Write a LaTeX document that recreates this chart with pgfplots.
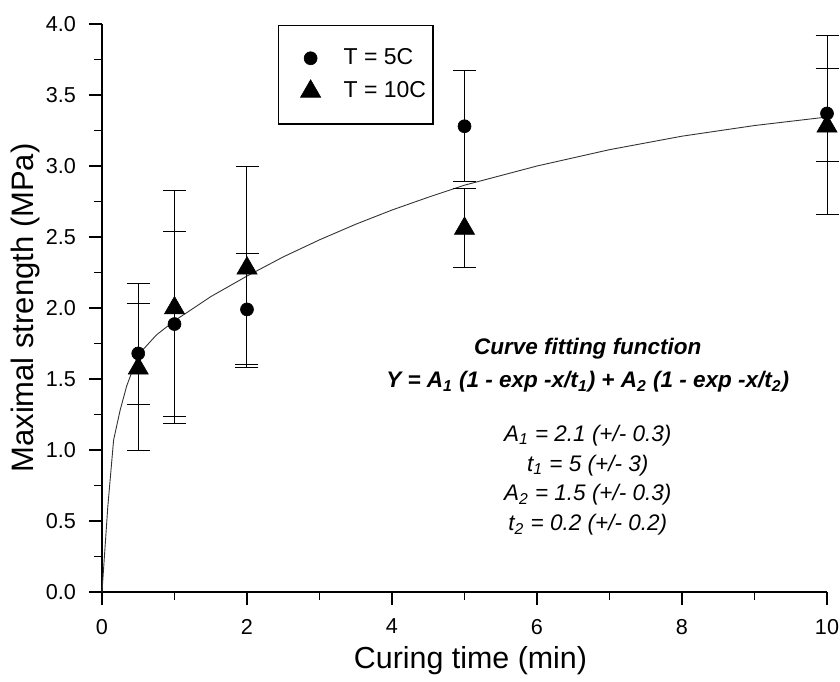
\documentclass[border=0pt]{standalone}
\usepackage{fontspec}
\setmainfont{Liberation Sans}
\usepackage{pgfplots}
\pgfplotsset{compat=1.18}
\begin{document}
\begin{tikzpicture}
\begin{axis}[
  at={(0pt,0pt)}, anchor=south west,
  width=362.5pt, height=284pt, scale only axis,
  xmin=0, xmax=10, ymin=0, ymax=4,
  axis x line*=bottom, axis y line*=left,
  axis line style={line width=0.85pt, -},
  tick align=outside,
  major tick length=6.5pt, minor tick length=4pt,
  every tick/.style={black, line width=0.85pt},
  xtick={0,2,4,6,8,10}, minor xtick={1,3,5,7,9},
  ytick={0,0.5,...,4}, minor ytick={0.25,0.75,...,3.75},
  yticklabel style={xshift=-3pt, /pgf/number format/.cd, fixed, fixed zerofill, precision=1},
  /pgf/number format/assume math mode=true,
  tick label style={font=\fontsize{10.8}{13}\selectfont},
  xticklabel style={yshift=-3.5pt},
  xlabel={Curing time (min)}, ylabel={Maximal strength (MPa)},
  every axis x label/.style={at={([xshift=3pt,yshift=-38pt]axis description cs:0.5,0)}, anchor=base, font=\fontsize{15.2}{18}\selectfont},
  every axis y label/.style={at={([xshift=-34pt]axis description cs:0,0.5)}, anchor=base, rotate=90, font=\fontsize{15.5}{18}\selectfont},
  legend style={at={(0.2428,0.998)}, anchor=north west, draw=black, line width=0.6pt,
    font=\fontsize{11.5}{13}\selectfont, inner xsep=2.5pt, inner ysep=10.5pt, row sep=5pt,
    nodes={inner sep=1pt},
    /tikz/every odd column/.append style={column sep=2pt}},
  legend image code/.code={\path[draw=none, fill=none] (0pt,-3pt) rectangle (27pt,3pt); \draw[#1] plot coordinates {(13.5pt,0pt)};},
  legend cell align=left,
  clip=false,
]
\addplot[black!80, line width=0.45pt, forget plot] coordinates {
 (0,0) (0.08,0.60) (0.16,1.07) (0.25,1.28) (0.34,1.45) (0.5,1.67) (0.75,1.81)
 (1,1.91) (1.5,2.08) (2,2.225) (2.5,2.36) (3,2.48) (3.5,2.59) (4,2.69)
 (4.5,2.78) (5,2.865) (6,3.00) (7,3.115) (8,3.21) (9,3.285) (10,3.345)};

\addplot[only marks, mark=*, black, mark size=3.25pt, mark options={fill=black, draw=black, line width=0.3pt},
  error bars/.cd, y dir=both, y explicit,
  error bar style={line width=0.5pt, black},
  error mark options={rotate=90, mark size=5.75pt, line width=0.5pt, black}]
  table[x=x, y=y, y error plus=ep, y error minus=em] {
x y ep em
0.5 1.68 0.35 0.36
1 1.887 0.65 0.65
2 1.99 0.395 0.39
5 3.28 0.396 0.39
10 3.37 0.32 0.34
};
\addlegendentry{T = 5C}

\addplot[only marks, mark=triangle*, black, mark size=5.8pt, mark options={fill=black, draw=black, line width=0.3pt},
  error bars/.cd, y dir=both, y explicit,
  error bar style={line width=0.5pt, black},
  error mark options={rotate=90, mark size=5.75pt, line width=0.5pt, black}]
  table[x=x, y=y, y error plus=ep, y error minus=em] {
x y ep em
0.5 1.575 0.60 0.575
1 2.0 0.83 0.816
2 2.28 0.72 0.70
5 2.56 0.283 0.273
10 3.28 0.64 0.62
};
\addlegendentry{T = 10C}

\node[anchor=base, font=\fontsize{11.25}{13}\selectfont\bfseries\itshape] at (axis cs:6.70,1.676) {Curve fitting function};
\node[anchor=base, font=\fontsize{11.25}{13}\selectfont\bfseries\itshape] at (axis cs:6.70,1.437) {Y = A\textsubscript{1} (1 - exp -x/t\textsubscript{1}) + A\textsubscript{2} (1 - exp -x/t\textsubscript{2})};
\node[anchor=base, font=\fontsize{11.25}{13}\selectfont\itshape] at (axis cs:6.70,1.063) {A\textsubscript{1} = 2.1 (+/- 0.3)};
\node[anchor=base, font=\fontsize{11.25}{13}\selectfont\itshape] at (axis cs:6.70,0.852) {t\textsubscript{1} = 5 (+/- 3)};
\node[anchor=base, font=\fontsize{11.25}{13}\selectfont\itshape] at (axis cs:6.70,0.641) {A\textsubscript{2} = 1.5 (+/- 0.3)};
\node[anchor=base, font=\fontsize{11.25}{13}\selectfont\itshape] at (axis cs:6.70,0.430) {t\textsubscript{2} = 0.2 (+/- 0.2)};
\end{axis}
\pgfresetboundingbox
\path[use as bounding box] (-51pt,-44.5pt) rectangle (369pt,296pt);
\end{tikzpicture}
\end{document}
